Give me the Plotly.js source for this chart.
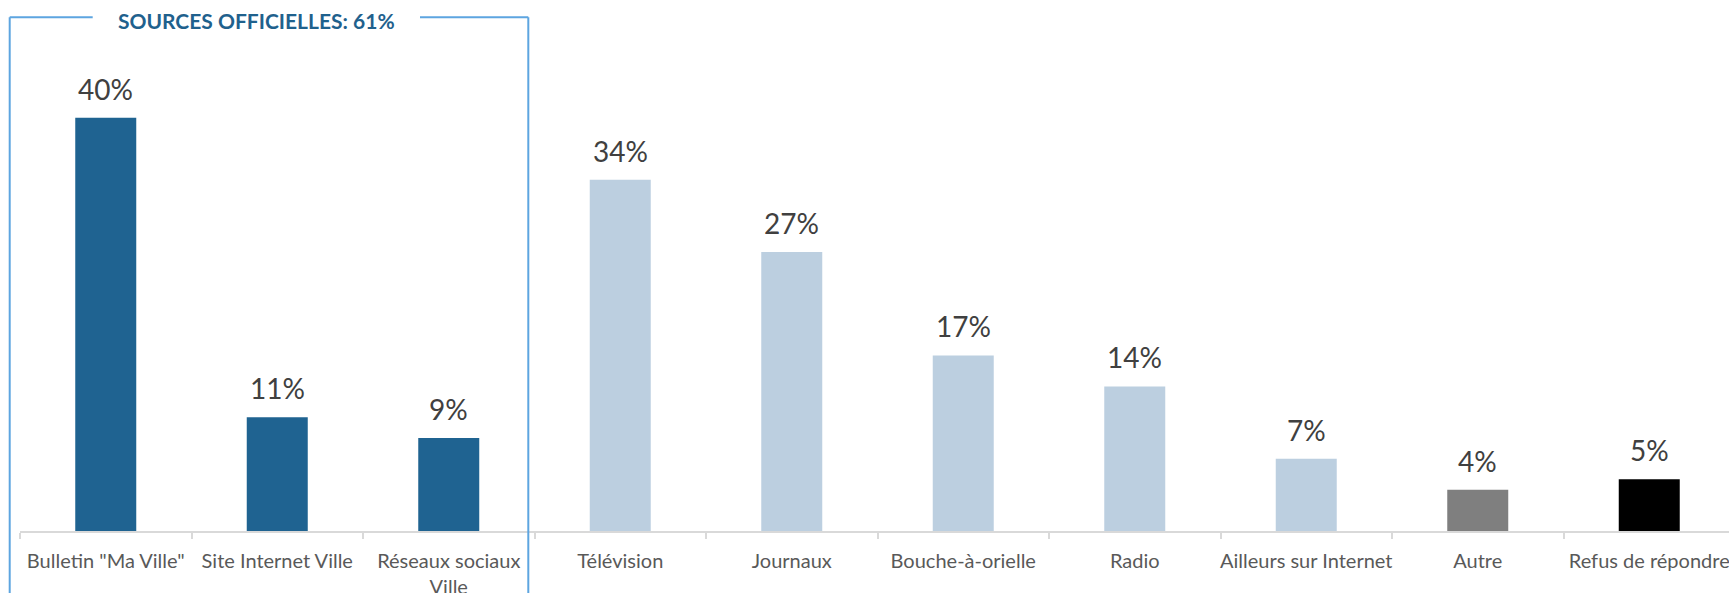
<!DOCTYPE html>
<html>
<head>
<meta charset="utf-8">
<script src="https://cdn.plot.ly/plotly-3.0.1.min.js"></script>
<style>
  html, body { margin: 0; padding: 0; background: #ffffff; overflow: hidden; }
  #chart { width: 1729px; height: 593px; }
</style>
</head>
<body>
<div id="chart"></div>
<script>
// ---- data ----
const categories = [
  'Bulletin "Ma Ville"', 'Site Internet Ville', 'Réseaux sociaux<br>Ville',
  'Télévision', 'Journaux', 'Bouche-à-orielle', 'Radio',
  'Ailleurs sur Internet', 'Autre', 'Refus de répondre'
];
const values = [40, 11, 9, 34, 27, 17, 14, 7, 4, 5];
const valueLabels = ['40%', '11%', '9%', '34%', '27%', '17%', '14%', '7%', '4%', '5%'];
const barColors = ['#1F6391', '#1F6391', '#1F6391', '#BCCFE0', '#BCCFE0', '#BCCFE0',
                   '#BCCFE0', '#BCCFE0', '#7F7F7F', '#000000'];
const groupTitle = 'SOURCES OFFICIELLES: 61%';

// ---- layout geometry (pixels) ----
const W = 1729, H = 593;
const mL = 20, mR = 0, mT = 0, mB = 62;
const plotW = W - mL - mR, plotH = H - mT - mB;
const catPx = 171.5;
const pxPerUnit = 10.33;
const px2paperX = px => (px - mL) / plotW;
const px2paperY = py => (H - mB - py) / plotH;

const boxColor = '#5DA5E0';
const boxL = 9.7, boxR = 528.3, boxTop = 17.3, boxBottom = 700;
const gapL = 92.7, gapR = 420;

const shapes = [
  {x0: px2paperX(boxL), x1: px2paperX(boxL), y0: px2paperY(boxTop), y1: px2paperY(boxBottom)},
  {x0: px2paperX(boxR), x1: px2paperX(boxR), y0: px2paperY(boxTop), y1: px2paperY(boxBottom)},
  {x0: px2paperX(boxL), x1: px2paperX(gapL), y0: px2paperY(boxTop), y1: px2paperY(boxTop)},
  {x0: px2paperX(gapR), x1: px2paperX(boxR), y0: px2paperY(boxTop), y1: px2paperY(boxTop)}
].map(s => Object.assign({type: 'line', xref: 'paper', yref: 'paper', layer: 'above',
                           line: {color: boxColor, width: 2}}, s));

const annotations = categories.map((c, i) => ({
  x: c, y: values[i], xref: 'x', yref: 'y', text: valueLabels[i],
  showarrow: false, yanchor: 'bottom', yshift: 10,
  font: {family: 'Lato, sans-serif', size: 28, color: '#404040'}
}));
annotations.push({
  xref: 'paper', yref: 'paper', x: px2paperX(256), y: px2paperY(21),
  xanchor: 'center', yanchor: 'middle', showarrow: false, text: '<b>' + groupTitle + '</b>',
  font: {family: 'Lato, sans-serif', size: 21, color: '#1F618D'}
});

const trace = {
  type: 'bar', x: categories, y: values,
  marker: {color: barColors},
  hoverinfo: 'none'
};

const layout = {
  width: W, height: H,
  margin: {l: mL, r: mR, t: mT, b: mB, pad: 0},
  paper_bgcolor: '#ffffff', plot_bgcolor: '#ffffff',
  bargap: 1 - 61 / catPx,
  showlegend: false,
  xaxis: {
    type: 'category',
    range: [-0.5, -0.5 + plotW / catPx],
    showline: true, linecolor: '#D9D9D9', linewidth: 2,
    ticks: 'outside', tickson: 'boundaries', ticklen: 6, tickwidth: 2, tickcolor: '#D9D9D9',
    tickangle: 0, automargin: false, ticklabelstandoff: 11,
    tickfont: {family: 'Lato, sans-serif', size: 20, color: '#595959'},
    showgrid: false, zeroline: false, fixedrange: true
  },
  yaxis: {
    range: [0, plotH / pxPerUnit],
    visible: false, showgrid: false, zeroline: false, fixedrange: true
  },
  shapes: shapes,
  annotations: annotations
};

Plotly.newPlot('chart', [trace], layout, {displayModeBar: false, staticPlot: true});
</script>
</body>
</html>
